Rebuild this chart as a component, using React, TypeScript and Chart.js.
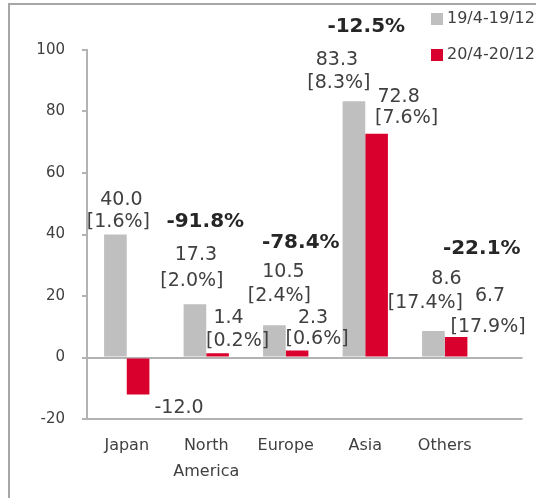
import React, { useEffect, useRef } from "react";
import { Chart, registerables } from "chart.js";

Chart.register(...registerables);

const categories: (string | string[])[] = ["Japan", ["North", "America"], "Europe", "Asia", "Others"];
const seriesNames = ["19/4-19/12", "20/4-20/12"];
const prevValues = [40.0, 17.3, 10.5, 83.3, 8.6];
const currValues = [-12.0, 1.4, 2.3, 72.8, 6.7];
const prevShares = ["[1.6%]", "[2.0%]", "[2.4%]", "[8.3%]", "[17.4%]"];
const currShares = ["", "[0.2%]", "[0.6%]", "[7.6%]", "[17.9%]"];
const changes = ["", "-91.8%", "-78.4%", "-12.5%", "-22.1%"];
const yTicks = [-20, 0, 20, 40, 60, 80, 100];

// layout nudges for the hand-placed labels (pixels): [dx1, dy1, dx2, dy2]
const prevNudge = [
  [6, -34, 3, -12],
  [1, -49, -3, -23],
  [9, -53, 5, -29],
  [-17, -41, -15, -18],
  [13, -52, -8, -28],
];
const currNudge = [
  [41, 14, 0, 0],
  [11, -35, 20, -12],
  [16, -32, 20, -11],
  [22, -37, 30, -16],
  [34, -41, 32, -10],
];
// change label placement: [dx from category centre (px), y in axis units]
const changePos = [
  [0, 0],
  [-1, 44],
  [15, 37.2],
  [1, 107.5],
  [37, 35.3],
];

const GRAY = "#bfbfbf";
const RED = "#da002d";
const AXIS = "#b3b3b3";
const TEXT = "#404040";
const FONT = "'DejaVu Sans', Verdana, sans-serif";

const linesPlugin = {
  id: "lines",
  beforeDatasetsDraw(chart: any) {
    const { ctx, chartArea, scales } = chart;
    const y = scales.y;
    ctx.save();
    ctx.strokeStyle = AXIS;
    ctx.lineWidth = 2;
    [0, y.min].forEach((v: number) => {
      const py = Math.round(y.getPixelForValue(v));
      ctx.beginPath();
      ctx.moveTo(chartArea.left - 5, py);
      ctx.lineTo(chartArea.right + 38, py);
      ctx.stroke();
    });
    ctx.restore();
  },
};

const labelsPlugin = {
  id: "labels",
  afterDatasetsDraw(chart: any) {
    const { ctx, scales } = chart;
    ctx.save();
    ctx.textAlign = "center";
    ctx.textBaseline = "middle";
    ctx.fillStyle = TEXT;
    ctx.font = `19px ${FONT}`;
    const draw = (dsIndex: number, values: number[], shares: string[], nudge: number[][]) => {
      const meta = chart.getDatasetMeta(dsIndex);
      values.forEach((v, i) => {
        const bar = meta.data[i];
        const ref = v >= 0 ? bar.y : bar.y;
        const [dx1, dy1, dx2, dy2] = nudge[i];
        ctx.fillText(v.toFixed(1), bar.x + dx1, ref + dy1);
        if (shares[i]) ctx.fillText(shares[i], bar.x + dx2, ref + dy2);
      });
    };
    draw(0, prevValues, prevShares, prevNudge);
    draw(1, currValues, currShares, currNudge);

    ctx.font = `bold 20px ${FONT}`;
    ctx.fillStyle = "#262626";
    changes.forEach((c, i) => {
      if (!c) return;
      const x = scales.x.getPixelForValue(i) + changePos[i][0];
      const y = scales.y.getPixelForValue(changePos[i][1]);
      ctx.fillText(c, x, y);
    });

    // legend
    ctx.font = `16px ${FONT}`;
    ctx.textAlign = "left";
    ctx.fillStyle = TEXT;
    chart.data.datasets.forEach((ds: any, i: number) => {
      const top = 13 + i * 36;
      ctx.fillStyle = ds.backgroundColor;
      ctx.fillRect(431, top, 12, 12);
      ctx.fillStyle = TEXT;
      ctx.fillText(ds.label, 447, top + 6);
    });
    ctx.restore();
  },
};

export default function App() {
  const ref = useRef<HTMLCanvasElement>(null);
  useEffect(() => {
    if (!ref.current) return;
    const chart = new Chart(ref.current, {
      type: "bar",
      data: {
        labels: categories,
        datasets: [
          { label: seriesNames[0], data: prevValues, backgroundColor: GRAY },
          { label: seriesNames[1], data: currValues, backgroundColor: RED },
        ],
      },
      options: {
        responsive: false,
        animation: false,
        events: [],
        layout: { padding: { top: 50, right: 51.5, bottom: 0, left: 0 } },
        plugins: { legend: { display: false }, tooltip: { enabled: false } },
        datasets: { bar: { categoryPercentage: 0.57, barPercentage: 1.0 } },
        scales: {
          x: {
            afterFit: (s: any) => {
              s.height = 79;
            },
            grid: { display: false, drawTicks: false },
            border: { display: false },
            ticks: {
              padding: 14,
              color: TEXT,
              font: { family: FONT, size: 16, lineHeight: 1.6 },
            },
          },
          y: {
            min: -20,
            max: 100,
            afterFit: (s: any) => {
              s.width = 87;
            },
            afterBuildTicks: (s: any) => {
              s.ticks = yTicks.map((v) => ({ value: v }));
            },
            grid: {
              drawOnChartArea: false,
              drawTicks: true,
              tickLength: 5,
              color: AXIS,
              lineWidth: 2,
            },
            border: { display: true, color: AXIS, width: 2 },
            ticks: {
              padding: 17,
              color: TEXT,
              font: { family: FONT, size: 15 },
            },
          },
        },
      },
      plugins: [linesPlugin, labelsPlugin],
    });
    return () => chart.destroy();
  }, []);

  return (
    <div
      style={{
        position: "fixed",
        left: 0,
        top: 0,
        width: 536,
        height: 498,
        overflow: "hidden",
        background: "#fff",
      }}
    >
      <div
        style={{
          position: "absolute",
          left: 8,
          top: 3,
          width: 600,
          height: 600,
          border: "2px solid #a6a6a6",
          boxSizing: "border-box",
        }}
      />
      <canvas ref={ref} width={536} height={498} style={{ position: "absolute", left: 0, top: 0 }} />
    </div>
  );
}
